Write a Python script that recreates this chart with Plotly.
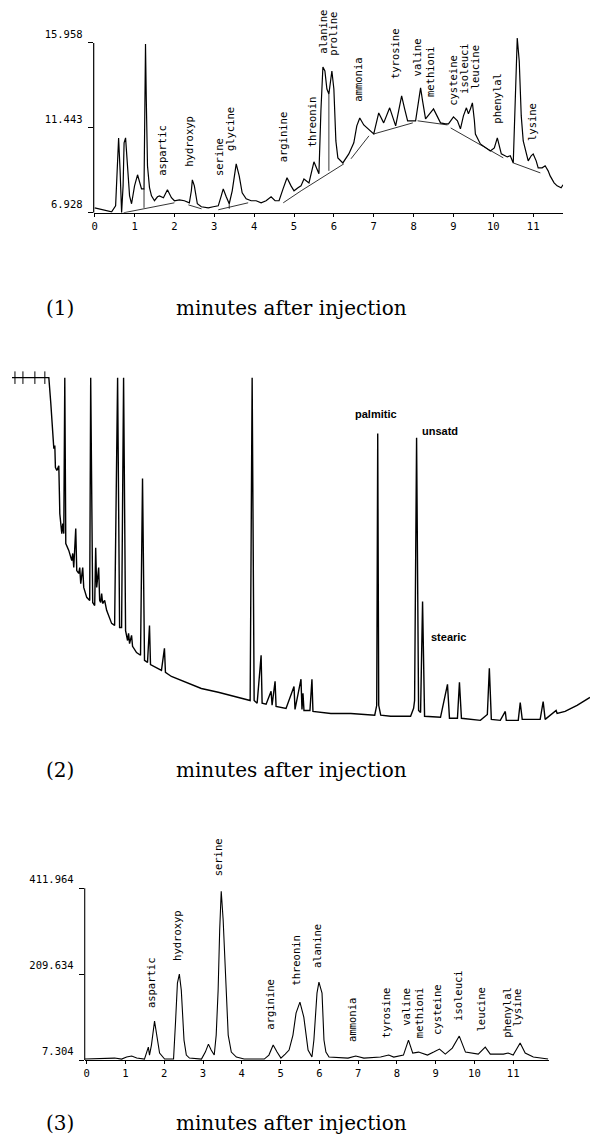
import plotly.graph_objects as go

W, H = 590, 1141

# ---------------- Panel (1): amino acid chromatogram ----------------
p1_time = [0.0, 0.175, 0.3, 0.425, 0.525, 0.5625, 0.6, 0.6375, 0.675, 0.7125, 0.7375, 0.775, 0.825, 0.875,
           0.925, 1.0, 1.075, 1.125, 1.175, 1.2375, 1.2575, 1.275, 1.295, 1.325, 1.375, 1.425, 1.5, 1.575,
           1.625, 1.725, 1.825, 1.925, 2.0, 2.125, 2.25, 2.375, 2.425, 2.45, 2.5, 2.575, 2.675, 2.85, 2.975,
           3.1, 3.175, 3.225, 3.3, 3.375, 3.45, 3.55, 3.625, 3.7, 3.8, 3.925, 4.05, 4.175, 4.3, 4.425, 4.525,
           4.625, 4.725, 4.825, 4.925, 5.0, 5.1, 5.175, 5.25, 5.375, 5.5, 5.575, 5.625, 5.675, 5.725, 5.775,
           5.825, 5.875, 5.925, 5.95, 6.0, 6.05, 6.1, 6.225, 6.375, 6.5, 6.575, 6.65, 6.75, 6.85, 7.0, 7.125,
           7.25, 7.4, 7.55, 7.625, 7.7, 7.775, 7.85, 8.05, 8.125, 8.175, 8.225, 8.3, 8.4, 8.5, 8.6, 8.675, 8.8,
           8.875, 9.0, 9.1, 9.175, 9.25, 9.325, 9.375, 9.425, 9.475, 9.525, 9.55, 9.675, 9.8, 9.925, 10.025,
           10.1, 10.15, 10.2, 10.35, 10.425, 10.5, 10.55, 10.6, 10.65, 10.7, 10.75, 10.825, 10.875, 10.95,
           11.0, 11.075, 11.125, 11.225, 11.3, 11.375, 11.425, 11.525, 11.6, 11.7, 11.75]
p1_signal = [7.19, 7.09, 7.03, 6.98, 7.30, 9.42, 10.91, 9.16, 6.93, 8.36, 10.65, 10.91, 9.42, 7.83,
             7.41, 8.36, 8.95, 8.52, 8.20, 8.20, 12.35, 15.90, 12.88, 9.42, 8.26, 7.83, 7.57, 7.78,
             7.83, 7.73, 8.15, 7.73, 7.57, 7.62, 7.57, 7.46, 8.10, 8.68, 8.36, 7.41, 7.25, 7.19, 7.25,
             7.30, 7.83, 8.20, 7.78, 7.41, 8.10, 9.53, 8.89, 7.99, 7.67, 7.57, 7.57, 7.46, 7.57, 7.78, 7.57,
             7.57, 8.20, 8.79, 8.36, 8.10, 8.26, 8.36, 8.73, 8.52, 9.64, 9.27, 9.00, 12.35, 14.68, 14.47,
             13.51, 13.25, 14.15, 14.47, 13.51, 10.75, 9.85, 9.58, 10.06, 10.65, 11.55, 11.97, 11.60, 11.39, 11.12, 12.24,
             11.71, 12.51, 11.55, 12.35, 13.14, 12.45, 11.82, 11.82, 12.88, 13.57, 12.88, 11.92, 12.19, 12.45, 12.03, 11.71, 11.66,
             11.66, 12.03, 11.82, 11.39, 12.08, 12.51, 12.19, 12.45, 12.77, 11.82, 11.12, 10.59, 10.38, 10.22, 10.38,
             10.91, 10.49, 10.06, 9.90, 9.96, 9.58, 12.88, 16.22, 15.00, 12.08, 10.75, 10.12, 9.69, 9.96,
             10.06, 9.69, 9.32, 9.32, 9.43, 9.16, 8.89, 8.52, 8.36, 8.26, 8.42]

# drawn baseline / drop lines of the integrator (segments separated by None)
p1_base_time = [0.725, 2.0, None, 2.35, 2.68, None, 3.1, 3.85, None, 4.73, 5.18, 6.25, None, 6.43, 6.88, None,
                7.0, 7.98, None, 8.1, 8.85, None, 8.93, 10.25, None, 10.5, 11.18, None,
                1.2375, 1.2375, None, 3.375, 3.375, None, 5.875, 5.875]
p1_base_signal = [6.93, 7.46, None, 7.35, 7.14, None, 7.09, 7.46, None, 7.46, 8.10, 9.53, None, 9.80, 11.02, None,
                  11.12, 11.71, None, 11.82, 11.60, None, 11.44, 9.85, None, 9.58, 9.05, None,
                  8.20, 7.19, None, 7.41, 7.14, None, 13.25, 9.16]

p1_labels = ["aspartic", "hydroxyp", "serine", "glycine", "arginine", "threonin", "alanine", "proline",
             "ammonia", "tyrosine", "valine", "methioni", "cysteine", "isoleuci", "leucine", "phenylal", "lysine"]
p1_label_time = [1.70, 2.375, 3.125, 3.4, 4.725, 5.45, 5.725, 5.975, 6.6, 7.55, 8.075, 8.425, 9.0, 9.275,
                 9.55, 10.1, 10.975]
p1_label_signal = [8.79, 9.265, 8.79, 10.115, 9.48, 10.33, 15.27, 15.16, 12.72, 13.94, 14.05, 12.98, 12.51,
                   13.14, 13.41, 11.55, 10.65]

p1_yticks = [6.928, 11.443, 15.958]
p1_ytext = ["6.928", "11.443", "15.958"]

# ---------------- Panel (2): fatty acid chromatogram (no scale) ----------------
p2_time = [0, 0.925, 0.975, 1.025, 1.05, 1.075, 1.09, 1.125, 1.175, 1.19, 1.2, 1.25, 1.275, 1.3, 1.325,
           1.35, 1.425, 1.5, 1.525, 1.55, 1.6, 1.625, 1.675, 1.7, 1.725, 1.775, 1.8, 1.875, 1.95, 1.975,
           2.025, 2.075, 2.1, 2.125, 2.175, 2.2, 2.225, 2.25, 2.275, 2.325, 2.375, 2.5, 2.575, 2.65, 2.7,
           2.75, 2.8, 2.85, 2.9, 2.925, 2.95, 3.0, 3.025, 3.125, 3.225, 3.275, 3.325, 3.4, 3.45, 3.475,
           3.625, 3.75, 3.825, 3.85, 4.0, 4.425, 4.75, 5.175, 5.5, 5.925, 5.975, 6.025, 6.075, 6.15, 6.25,
           6.275, 6.375, 6.5, 6.525, 6.6, 6.625, 6.875, 7.075, 7.1, 7.25, 7.275, 7.3, 7.325, 7.475, 7.525,
           7.55, 8.0, 8.5, 9.1, 9.15, 9.175, 9.2, 9.25, 9.5, 10.0, 10.075, 10.1, 10.15, 10.2, 10.25, 10.3,
           10.35, 10.75, 10.925, 10.975, 11.175, 11.225, 11.275, 11.75, 11.925, 11.975, 12.025, 12.25,
           12.375, 12.4, 12.7, 12.75, 12.8, 13.25, 13.325, 13.375, 13.65, 13.675, 13.875, 14.175, 14.5]
p2_signal = [100, 100, 92.4, 82.5, 79.3, 80.2, 73.8, 72.9, 74.3, 66.2, 60.3, 54.5, 57.4, 54.5, 100,
             51.6, 49.6, 46.6, 48.7, 44.6, 56.0, 43.7, 42.9, 44.6, 39.9, 44.6, 38.8, 35.9, 35.0, 100,
             34.4, 33.5, 50.4, 38.8, 44.6, 35.0, 34.4, 37.0, 34.1, 35.0, 32.1, 28.3, 27.7, 100, 27.1,
             27.1, 100, 26.2, 23.3, 25.4, 22.4, 24.8, 21.6, 19.8, 19.0, 70.6, 17.5, 16.9, 27.7, 16.3,
             15.5, 14.6, 21.0, 14.0, 12.8, 10.8, 9.3, 8.2, 7.3, 6.1, 5.8, 100, 5.8, 5.0, 19.0,
             5.0, 4.7, 8.5, 4.4, 11.4, 4.1, 3.5, 9.9, 3.2, 12.0, 3.2, 7.9, 2.9, 2.9, 12.0,
             2.6, 2.0, 2.0, 1.5, 4.4, 83.7, 4.4, 1.5, 1.2, 1.2, 3.5, 5.8, 82.5, 2.9, 2.3, 34.7,
             1.2, 0.9, 10.5, 0.6, 0.6, 11.1, 0.6, 0.0, 1.7, 15.2, 0.3, 0.0,
             2.6, 0.0, 0.0, 5.2, 0.3, 0.3, 5.5, 0.3, 2.9, 2.0, 2.6, 4.4, 6.7]
p2_event_time = [0.075, 0.275, 0.575, 0.825]
p2_event_signal = [100, 100, 100, 100]

p2_labels = ["palmitic", "unsatd", "stearic"]
p2_label_time = [9.125, 10.225, 10.45]
p2_label_signal = [89.5, 84.5, 24.2]
p2_label_anchor = ["center", "left", "left"]

# ---------------- Panel (3): amino acid chromatogram ----------------
p3_time = [-0.05, 0.57, 0.72, 0.90, 1.03, 1.16, 1.29, 1.49, 1.57, 1.59, 1.62, 1.67, 1.75, 1.83, 1.88, 2.01,
           2.24, 2.29, 2.34, 2.39, 2.44, 2.51, 2.57, 2.65, 2.96, 3.06, 3.14, 3.21, 3.29, 3.34, 3.39, 3.43,
           3.47, 3.52, 3.59, 3.65, 3.73, 3.86, 4.06, 4.58, 4.70, 4.81, 4.91, 5.01, 5.12, 5.22, 5.32, 5.40,
           5.50, 5.60, 5.71, 5.81, 5.86, 5.94, 5.99, 6.07, 6.12, 6.17, 6.25, 6.74, 6.94, 7.15, 7.58, 7.79,
           7.92, 8.17, 8.30, 8.41, 8.56, 8.79, 8.95, 9.10, 9.25, 9.43, 9.61, 9.77, 10.10, 10.28, 10.41,
           10.75, 10.87, 11.00, 11.18, 11.31, 11.52, 11.90]
p3_signal = [9.66, 12.0, 12.0, 9.66, 14.4, 16.7, 12.0, 9.66, 30.8, 37.9, 19.1, 42.6, 99.1, 54.4, 23.8, 9.66,
             9.66, 94.4, 188.5, 209.6, 172.0, 54.4, 19.1, 12.0, 9.66, 26.1, 44.9, 30.8, 19.1, 66.1, 172.0, 313.2,
             404.9, 336.7, 172.0, 66.1, 26.1, 14.4, 9.66, 9.66, 19.1, 42.6, 26.1, 12.0, 21.4, 30.8, 66.1, 117.9,
             143.8, 108.5, 30.8, 14.4, 54.4, 164.9, 190.8, 164.9, 54.4, 26.1, 14.4, 12.0, 16.7, 12.0, 14.4, 19.1,
             14.4, 19.1, 54.4, 23.8, 26.1, 19.1, 26.1, 33.2, 21.4, 35.5, 63.8, 26.1, 21.4, 37.9, 21.4,
             21.4, 23.8, 19.1, 47.3, 23.8, 14.4, 9.66]

p3_labels = ["aspartic", "hydroxyp", "serine", "arginine", "threonin", "alanine", "ammonia", "tyrosine",
             "valine", "methioni", "cysteine", "isoleuci", "leucine", "phenylal", "lysine"]
p3_label_time = [1.645, 2.31, 3.39, 4.73, 5.40, 5.94, 6.84, 7.71, 8.23, 8.56, 9.02, 9.56, 10.18, 10.82, 11.11]
p3_label_signal = [124.9, 235.5, 435.5, 73.2, 176.7, 219.1, 45.0, 54.4, 82.6, 54.4, 61.4, 94.4, 70.8, 54.4, 82.6]

p3_yticks = [7.304, 209.634, 411.964]
p3_ytext = ["7.304", "209.634", "411.964"]

x_ticks = list(range(12))
x_ticktext = [str(v) for v in x_ticks]

captions = ["(1)", "(2)", "(3)"]
xlabel = "minutes after injection"

# ---------------- figure ----------------
mono = dict(family="DejaVu Sans Mono", size=10.5, color="black")
ink = "black"

fig = go.Figure()
fig.add_trace(go.Scatter(x=p1_time, y=p1_signal, mode="lines", line=dict(color=ink, width=1.2),
                         xaxis="x", yaxis="y", hoverinfo="skip"))
fig.add_trace(go.Scatter(x=p1_base_time, y=p1_base_signal, mode="lines", line=dict(color=ink, width=0.8),
                         xaxis="x", yaxis="y", hoverinfo="skip", connectgaps=False))
fig.add_trace(go.Scatter(x=p2_time, y=p2_signal, mode="lines", line=dict(color=ink, width=1.4),
                         xaxis="x2", yaxis="y2", hoverinfo="skip"))
fig.add_trace(go.Scatter(x=p2_event_time, y=p2_event_signal, mode="markers",
                         marker=dict(symbol="line-ns", size=9, line=dict(color=ink, width=1)),
                         xaxis="x2", yaxis="y2", hoverinfo="skip"))
fig.add_trace(go.Scatter(x=p3_time, y=p3_signal, mode="lines", line=dict(color=ink, width=1.1),
                         xaxis="x3", yaxis="y3", hoverinfo="skip"))

annotations = []
for lab, t, s in zip(p1_labels, p1_label_time, p1_label_signal):
    annotations.append(dict(text=lab, x=t, y=s, xref="x", yref="y", textangle=-90, showarrow=False,
                            xanchor="center", yanchor="bottom", font=mono))
for lab, t, s, a in zip(p2_labels, p2_label_time, p2_label_signal, p2_label_anchor):
    annotations.append(dict(text=lab, x=t, y=s, xref="x2", yref="y2", showarrow=False,
                            xanchor=a, yanchor="middle",
                            font=dict(family="Liberation Sans", size=11, color=ink, weight="bold")))
for lab, t, s in zip(p3_labels, p3_label_time, p3_label_signal):
    annotations.append(dict(text=lab, x=t, y=s, xref="x3", yref="y3", textangle=-90, showarrow=False,
                            xanchor="center", yanchor="bottom", font=mono))

serif = dict(family="DejaVu Serif", size=20, color=ink)
for cap, py in zip(captions, [307, 770, 1123]):
    annotations.append(dict(text=cap, x=58 / W, y=1 - py / H, xref="paper", yref="paper", showarrow=False,
                            xanchor="center", yanchor="middle", font=serif))
    annotations.append(dict(text=xlabel, x=290 / W, y=1 - py / H, xref="paper", yref="paper", showarrow=False,
                            xanchor="center", yanchor="middle", font=serif))

shapes = [
    dict(type="line", xref="x domain", x0=0, x1=0, yref="y", y0=p1_yticks[0], y1=p1_yticks[-1],
         line=dict(color=ink, width=1.2)),
    dict(type="line", xref="x3 domain", x0=0, x1=0, yref="y3", y0=p3_yticks[0], y1=p3_yticks[-1],
         line=dict(color=ink, width=1.1)),
]

common_x = dict(showgrid=False, zeroline=False, showline=True, linecolor=ink, linewidth=1.2,
                ticks="outside", ticklen=3, tickcolor=ink, tickvals=x_ticks, ticktext=x_ticktext,
                tickfont=mono, fixedrange=True)
common_y = dict(showgrid=False, zeroline=False, showline=False, ticks="outside", ticklen=5, tickcolor=ink,
                tickfont=mono, ticklabelshift=-9, ticklabelstandoff=3, fixedrange=True)

fig.update_layout(
    width=W, height=H, margin=dict(l=0, r=0, t=0, b=0), showlegend=False,
    paper_bgcolor="white", plot_bgcolor="white",
    xaxis=dict(domain=[92 / W, 563 / W], range=[-0.025, 11.75], anchor="y", **common_x),
    yaxis=dict(domain=[1 - 212 / H, 1 - 28 / H], range=[6.928, 16.702], anchor="x",
               tickvals=p1_yticks, ticktext=p1_ytext, **common_y),
    xaxis2=dict(domain=[10 / W, 1.0], range=[0, 14.5], anchor="y2", visible=False),
    yaxis2=dict(domain=[1 - 725 / H, 1 - 370 / H], range=[-1.46, 102.04], anchor="x2", visible=False),
    xaxis3=dict(domain=[83 / W, 549 / W], range=[-0.051, 11.928], anchor="y3", **common_x),
    yaxis3=dict(domain=[1 - 1060 / H, 1 - 835 / H], range=[7.304, 536.66], anchor="x3",
                tickvals=p3_yticks, ticktext=p3_ytext, **common_y),
    annotations=annotations, shapes=shapes,
)

fig.write_html("out.html")
